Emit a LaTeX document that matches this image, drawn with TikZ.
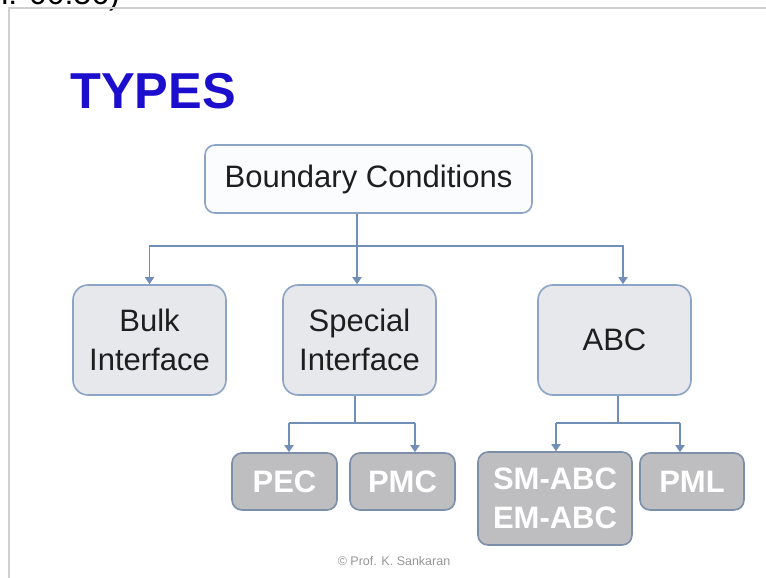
\documentclass[tikz,border=0pt]{standalone}
\usepackage{fontspec}
\setmainfont{Liberation Sans}
\usetikzlibrary{arrows.meta}

\definecolor{titleblue}{RGB}{28,14,205}
\definecolor{edgeblue}{RGB}{140,164,198}
\definecolor{linkblue}{RGB}{112,142,182}
\definecolor{topfill}{RGB}{251,252,253}
\definecolor{midfill}{RGB}{231,232,235}
\definecolor{lowfill}{RGB}{190,190,192}
\definecolor{lowedge}{RGB}{124,142,168}
\definecolor{textdark}{RGB}{30,30,30}
\definecolor{framegrey}{RGB}{208,208,208}
\definecolor{notegrey}{RGB}{150,150,150}

\begin{document}
\begin{tikzpicture}[x=1pt,y=-1pt,
  topbox/.style={draw=edgeblue, line width=1.6pt, fill=topfill,
    rounded corners=10pt, minimum width=327pt, minimum height=68pt,
    inner sep=0pt, text=textdark, font=\fontsize{31}{39}\selectfont},
  midbox/.style={draw=edgeblue, line width=1.6pt, fill=midfill,
    rounded corners=15pt, minimum width=153pt, minimum height=110pt,
    inner sep=0pt, align=center, text=textdark,
    font=\fontsize{31}{39}\selectfont},
  lowbox/.style={draw=lowedge, line width=1.6pt, fill=lowfill,
    rounded corners=10pt, minimum height=57pt, inner sep=0pt,
    align=center, text=white, font=\bfseries\fontsize{31}{39}\selectfont},
  conn/.style={draw=linkblue, line width=1.8pt},
  arr/.style={conn, -{Triangle[width=9pt,length=7pt]}}
]
\useasboundingbox (0,0) rectangle (766,578);
\fill[white] (0,0) rectangle (766,578);

% slide frame and the caption running off the top edge
\node[anchor=base east, inner sep=0pt, font=\fontsize{32}{34}\selectfont]
  (caption) at (120,5) {n: 00:56)};
\draw[framegrey, line width=1.2pt] (766,8) -- (9,8) -- (9,578);

% title
\node[anchor=base west, inner sep=0pt, text=titleblue,
  font=\bfseries\fontsize{50.5}{55}\selectfont] (title) at (70,109) {TYPES};

% nodes
\node[topbox] (bc) at (368.5,179) {Boundary Conditions};

\node[midbox] (bulk) at (149.5,340) {Bulk\\Interface};
\node[midbox] (spec) at (359.5,340) {Special\\Interface};
\node[midbox] (abc)  at (614.5,340) {ABC};

\node[lowbox, minimum width=105pt] (pec) at (284.5,481.5) {PEC};
\node[lowbox, minimum width=105pt] (pmc) at (402.5,481.5) {PMC};
\node[lowbox, minimum width=154pt, minimum height=93pt] (smabc) at (555,498.5)
  {SM-ABC\\EM-ABC};
\node[lowbox, minimum width=104pt] (pml) at (692,481.5) {PML};

\node[text=notegrey, font=\fontsize{12.5}{14}\selectfont] (note) at (394,561)
  {\textcopyright\ Prof. K. Sankaran};

% bus coordinates
\coordinate (j1) at (357,246);
\coordinate (b1r) at (623,246);
\coordinate (j2) at (355,423);
\coordinate (b2l) at (289,423);
\coordinate (b2r) at (415,423);
\coordinate (j3) at (618,423);
\coordinate (b3l) at (556,423);
\coordinate (b3r) at (680,423);

% first level
\draw[conn] (bc.south -| j1) -- (j1);
\draw[arr] (j1) -| (bulk.north);
\draw[arr] (j1) -- (spec.north -| j1);
\draw[arr] (j1) -- (b1r) -- (abc.north -| b1r);

% special interface children
\draw[conn] (spec.south -| j2) -- (j2);
\draw[conn] (b2l) -- (b2r);
\draw[arr] (b2l) -- (pec.north -| b2l);
\draw[arr] (b2r) -- (pmc.north -| b2r);

% ABC children
\draw[conn] (abc.south -| j3) -- (j3);
\draw[conn] (b3l) -- (b3r);
\draw[arr] (b3l) -- (smabc.north -| b3l);
\draw[arr] (b3r) -- (pml.north -| b3r);
\end{tikzpicture}
\end{document}
